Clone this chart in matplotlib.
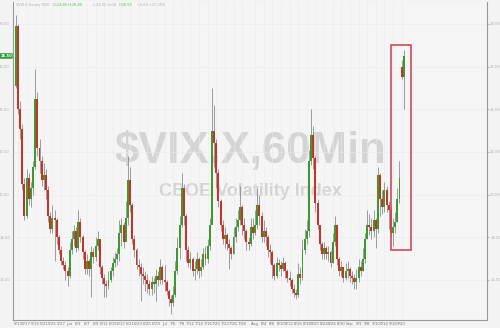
import matplotlib.pyplot as plt
import numpy as np
from matplotlib.patches import Rectangle

# 2 bougies par séance (matin / après-midi), la première = 5/12 après-midi
closes = [27.9,
          24.0, 23.1, 20.5, 19.0, 20.8, 19.8, 20.3, 21.3, 24.5, 22.2,
          21.6, 20.7, 20.9, 20.2, 19.0, 18.4, 18.9, 18.8, 18.0, 17.4,
          16.9, 16.7, 16.4, 16.2, 17.4, 17.9, 18.3, 17.5, 18.7, 18.0,
          17.3, 16.5, 16.9, 16.5, 17.3, 17.1, 17.6, 17.9, 16.6, 16.1,
          15.8, 15.7, 16.0, 16.4, 16.8, 17.0, 17.2, 18.2, 18.6, 17.8,
          18.9, 20.7, 19.5, 17.9, 17.4, 16.7, 16.6, 16.3, 16.2, 16.0,
          15.8, 15.6, 15.9, 15.8, 16.2, 16.0, 16.6, 16.0, 15.9, 15.5,
          15.1, 14.9, 15.3, 16.4, 17.5, 18.6, 20.3, 19.0, 17.4, 16.8,
          17.0, 16.4, 16.5, 17.0, 16.4, 16.6, 17.2, 17.0, 17.6, 18.6,
          23.0, 22.4, 21.0, 19.7, 18.6, 17.9, 18.1, 17.7, 17.5, 17.2,
          18.0, 18.5, 18.8, 19.4, 18.6, 18.3, 17.8, 17.7, 18.5, 18.2,
          18.6, 19.5, 19.0, 18.0, 18.3, 18.0, 17.4, 17.3, 16.7, 16.2,
          16.8, 16.7, 16.5, 16.8, 16.4, 16.1, 16.0, 15.6, 15.4, 15.3,
          16.3, 16.1, 17.4, 17.9, 18.3, 21.6, 22.8, 21.7, 19.6, 18.6,
          17.7, 17.2, 17.5, 17.2, 17.3, 16.8, 17.8, 18.6, 17.0, 16.4,
          16.6, 16.1, 16.4, 16.5, 16.2, 16.1, 15.9, 16.1, 16.6, 16.4,
          17.0, 17.9, 18.6, 18.5, 18.3, 18.8, 18.4, 20.9, 19.8, 19.4,
          20.2, 19.5, 19.3, 18.2, 18.5, 18.7, 19.8, 20.8, 25.5, 26.5]
highs = [28.4,
         28.0, 24.4, 23.3, 20.8, 21.2, 21.0, 20.6, 21.6, 25.9, 24.8,
         22.6, 21.8, 21.5, 21.2, 20.4, 19.2, 19.5, 19.3, 18.9, 18.1,
         17.6, 17.1, 16.9, 16.6, 17.8, 18.3, 18.6, 18.5, 19.3, 18.9,
         18.1, 17.4, 17.2, 17.0, 17.6, 17.5, 18.0, 18.3, 17.9, 16.7,
         16.3, 16.0, 16.4, 16.6, 17.1, 17.3, 17.5, 18.8, 18.9, 18.7,
         19.7, 21.8, 21.3, 19.6, 18.1, 17.5, 17.0, 16.8, 16.6, 16.4,
         16.3, 16.0, 16.2, 16.1, 16.5, 16.4, 17.0, 16.7, 16.7, 16.0,
         15.6, 15.3, 15.7, 16.9, 18.0, 19.0, 21.0, 20.5, 19.1, 17.6,
         17.3, 17.1, 16.9, 17.3, 17.1, 17.0, 17.5, 17.6, 17.9, 18.9,
         25.0, 24.2, 22.6, 21.2, 19.8, 18.8, 18.5, 18.2, 17.9, 17.6,
         18.5, 18.9, 19.3, 20.4, 19.5, 18.9, 18.4, 18.0, 18.9, 18.9,
         19.3, 20.3, 20.0, 19.2, 18.8, 18.5, 18.1, 17.7, 17.4, 16.8,
         17.1, 17.0, 16.9, 17.1, 16.9, 16.5, 16.4, 16.1, 15.8, 15.6,
         16.8, 16.6, 17.9, 18.4, 18.8, 22.1, 24.0, 23.2, 21.8, 19.8,
         18.6, 17.8, 17.8, 17.6, 17.6, 17.4, 18.2, 19.0, 18.0, 17.1,
         16.9, 16.6, 16.8, 16.9, 16.6, 16.4, 16.3, 16.5, 17.0, 16.9,
         17.5, 18.2, 19.3, 19.1, 18.9, 19.3, 18.9, 21.3, 21.0, 20.2,
         20.6, 20.4, 19.7, 19.4, 18.9, 19.2, 20.3, 21.6, 26.3, 26.8]
lows = [25.0,
        23.8, 22.6, 20.2, 18.8, 18.9, 19.5, 19.4, 20.0, 21.2, 21.8,
        21.0, 20.4, 20.2, 19.8, 18.7, 18.2, 18.2, 16.9, 17.7, 17.2,
        16.7, 16.5, 16.0, 15.7, 16.1, 17.2, 17.6, 17.3, 17.4, 17.8,
        17.0, 16.3, 16.3, 16.2, 15.2, 16.8, 16.9, 17.4, 16.3, 15.8,
        15.2, 15.2, 15.6, 15.9, 16.2, 16.6, 16.7, 16.9, 17.6, 17.5,
        17.9, 18.6, 19.2, 17.7, 17.1, 16.5, 16.2, 15.0, 15.8, 15.5,
        15.4, 15.3, 15.3, 15.4, 15.0, 15.7, 15.8, 15.8, 15.5, 15.3,
        14.8, 14.4, 14.8, 15.2, 16.3, 17.0, 18.5, 18.6, 16.9, 16.6,
        16.5, 16.2, 16.0, 16.3, 16.1, 16.2, 16.5, 16.7, 16.8, 17.4,
        19.5, 21.3, 20.3, 19.4, 18.3, 17.7, 17.5, 17.4, 16.5, 17.0,
        17.2, 17.8, 18.3, 18.6, 18.1, 17.9, 17.4, 17.4, 17.6, 17.9,
        18.1, 18.4, 18.6, 17.8, 17.8, 17.6, 17.1, 16.8, 16.1, 16.0,
        16.1, 16.4, 16.2, 16.4, 16.1, 15.9, 15.7, 15.4, 15.2, 15.1,
        15.2, 15.8, 16.0, 17.2, 17.7, 18.0, 21.4, 21.2, 19.2, 18.4,
        17.4, 17.0, 17.0, 17.0, 16.9, 16.6, 16.8, 17.6, 16.7, 16.2,
        16.2, 15.9, 16.0, 16.1, 15.9, 15.8, 15.6, 15.6, 15.9, 16.2,
        16.4, 16.8, 17.9, 18.1, 17.9, 18.0, 17.5, 18.2, 19.0, 19.1,
        19.2, 19.2, 18.4, 18.0, 17.6, 18.2, 18.7, 19.6, 25.4, 24.0]
# ouvertures qui ne suivent pas la clôture précédente (gaps)
gap_opens = {0: 25.1, 179: 26.0}

date_labels = ["5/13", "5/17", "5/19", "5/21", "5/25", "5/27", "Jun", "6/3", "6/7",
               "6/9", "6/11", "6/15", "6/17", "6/21", "6/23", "6/25", "6/29", "Jul",
               "7/6", "7/8", "7/12", "7/14", "7/16", "7/20", "7/22", "7/26", "7/28",
               "Aug", "8/4", "8/6", "8/10", "8/12", "8/16", "8/18", "8/20", "8/24",
               "8/26", "8/30", "Sep", "9/3", "9/8", "9/10", "9/14", "9/16", "9/20"]
# numéro de séance (depuis 5/13) de chaque étiquette
label_days = [0, 2, 4, 6, 8, 10, 12, 14, 16, 18, 20, 22, 24, 26, 28, 30, 32, 34,
              36, 38, 40, 42, 44, 46, 48, 50, 52, 55, 57, 59, 61, 63, 65, 67, 69,
              71, 73, 75, 77, 79, 81, 83, 85, 87, 89]
y_ticks = [16, 18, 20, 22, 24, 26, 28]

closes = np.array(closes)
highs = np.array(highs)
lows = np.array(lows)
opens = np.r_[closes[0], closes[:-1]]
for i, v in gap_opens.items():
    opens[i] = v
x = np.arange(len(closes))

fig = plt.figure(figsize=(5, 3.28), dpi=100)
fig.patch.set_facecolor('#f3f3f3')
ax = fig.add_axes([0.026, 0.0244, 0.948, 0.9695])
ax.set_facecolor('#f5f5f5')

# filigrane
ax.text(0.5, 0.53, "$VIX.X,60Min", transform=ax.transAxes, ha='center', va='center',
        fontsize=31.5, fontweight='bold', color='#d4d4d4', family='Liberation Sans', zorder=0)
ax.text(0.5, 0.405, "CBOE Volatility Index", transform=ax.transAxes, ha='center', va='center',
        fontsize=13, fontweight='bold', color='#d4d4d4', family='Liberation Sans', zorder=0)

up = closes >= opens
colors = np.where(up, '#3a9a30', '#cc3128')
ax.vlines(x, lows, highs, color='#8c8c8c', linewidth=0.6, zorder=2)
ax.bar(x, np.maximum(np.abs(closes - opens), 0.06), bottom=np.minimum(opens, closes),
       width=0.9, color=colors, linewidth=0, zorder=3)

# cadre rouge sur la dernière séance
n = len(closes)
y0 = lows[-6:].min() - 0.2
y1 = highs[-6:].max() + 0.2
ax.add_patch(Rectangle((n - 7, y0), 9.3, y1 - y0, fill=False, edgecolor='#d04a55',
                       linewidth=1.2, zorder=4))

ax.set_xlim(-1.3, 218.6)
ax.set_ylim(14.125, 29.03)

ax.set_yticks(y_ticks)
ax.set_yticklabels([f"{v:.2f}" for v in y_ticks])
ax.set_xticks([1 + 2 * d for d in label_days])
ax.set_xticklabels(date_labels)
ax.tick_params(axis='y', labelleft=True, labelright=True, left=False, right=True,
               length=1.5, color='#bbbbbb', labelsize=2.7, labelcolor='#b0b0b0', pad=0.8)
ax.tick_params(axis='x', length=0, labelsize=2.9, labelcolor='#777777', pad=1.2)
ax.grid(True, color='#ebebeb', linewidth=0.4)
ax.set_axisbelow(True)

for s in ['left', 'right', 'bottom']:
    ax.spines[s].set_color('#999999')
    ax.spines[s].set_linewidth(0.8)
ax.spines['top'].set_visible(False)

# étiquette du dernier cours à gauche
ax.text(-0.002, closes[-1], f"{closes[-1]:.2f}", transform=ax.get_yaxis_transform(),
        ha='right', va='center', fontsize=2.7, color='white', fontweight='bold',
        bbox=dict(boxstyle='round,pad=0.2', fc='#2f9a3a', ec='none'), clip_on=False)

# en-tête
head = [("$VIX.X Hourly 9/20", 0.032, '#aaaaaa'),
        ("O:24.86 H:26.80", 0.106, '#4cbb4c'),
        ("L:24.05 Vol:0", 0.186, '#aaaaaa'),
        ("C:26.50", 0.238, '#4cbb4c'),
        ("+5.69 +27.35%", 0.274, '#aaaaaa')]
for txt, hx, hc in head:
    fig.text(hx, 0.99, txt, fontsize=2.5, color=hc, va='top')

fig.savefig("out.png", dpi=100, facecolor=fig.get_facecolor())
